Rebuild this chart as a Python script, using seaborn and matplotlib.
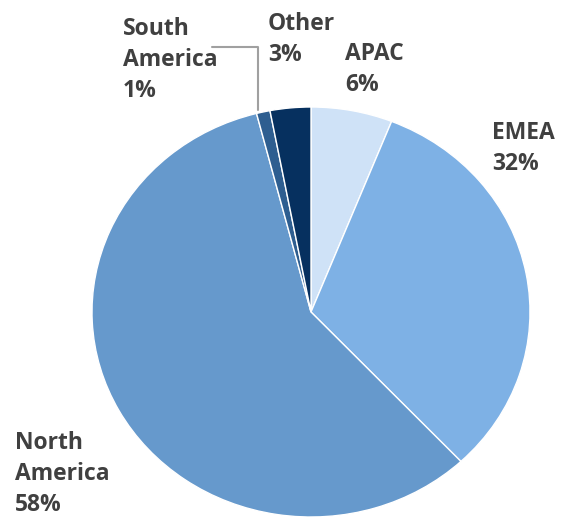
import matplotlib
matplotlib.use("Agg")
import matplotlib.pyplot as plt
import seaborn as sns

regions = ["APAC", "EMEA", "North America", "South America", "Other"]
shares = [6, 32, 58, 1, 3]
colors = ["#cfe2f7", "#7eb1e5", "#6699cc", "#2e5e90", "#06305f"]
label_text = ["APAC\n6%", "EMEA\n32%", "North\nAmerica\n58%", "South\nAmerica\n1%", "Other\n3%"]
# label positions in pixels (left, top)
label_pos = [(345, 42), (492, 121), (15, 431), (123, 17), (268, 12)]

sns.set_style("white")
plt.rcParams["font.family"] = ["Open Sans", "DejaVu Sans"]

W, H = 562, 517
fig = plt.figure(figsize=(W / 100, H / 100), dpi=100)

# pie box: x 92..530, y 107..517 (pixels)
ax = fig.add_axes([92 / W, 0, 438 / W, 410 / H])
ax.pie(shares, colors=colors, startangle=90, counterclock=False,
       radius=1, wedgeprops=dict(edgecolor="white", linewidth=1))
ax.set_xlim(-1, 1)
ax.set_ylim(-1, 1)
ax.set_aspect("auto")
ax.axis("off")

# leader line for South America
fig.add_artist(plt.Line2D([212 / W, 258 / W, 258 / W],
                          [1 - 47 / H, 1 - 47 / H, 1 - 110 / H],
                          color="#a0a0a0", linewidth=1.5))

for txt, (px, py) in zip(label_text, label_pos):
    fig.text(px / W, 1 - py / H, txt, ha="left", va="top", fontsize=16.5,
             fontweight="bold", color="#404040", linespacing=1.38)

fig.savefig("out.png", dpi=100)
